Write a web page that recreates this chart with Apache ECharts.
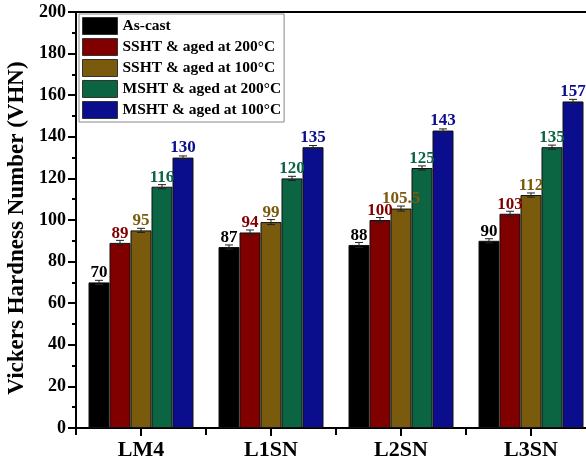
<!DOCTYPE html>
<html>
<head>
<meta charset="utf-8">
<script src="https://cdn.jsdelivr.net/npm/echarts@6/dist/echarts.min.js"></script>
<style>
html,body{margin:0;padding:0;background:#fff;overflow:hidden;}
#main{width:586px;height:463px;}
</style>
</head>
<body>
<div id="main"></div>
<script>
// 数据
let categories = ['LM4', 'L1SN', 'L2SN', 'L3SN'];
let seriesNames = ['As-cast', 'SSHT & aged at 200°C', 'SSHT & aged at 100°C', 'MSHT & aged at 200°C', 'MSHT & aged at 100°C'];
let asCast = [70, 87, 88, 90];
let ssht200 = [89, 94, 100, 103];
let ssht100 = [95, 99, 105.5, 112];
let msht200 = [116, 120, 125, 135];
let msht100 = [130, 135, 143, 157];
let errAsCast = [1, 1, 1.2, 1];
let errSsht200 = [1.2, 1.2, 1.2, 1.2];
let errSsht100 = [1, 1.2, 1.2, 1];
let errMsht200 = [1, 1, 1, 1];
let errMsht100 = [0.8, 0.8, 0.8, 1];

let colors = ['#000000', '#800000', '#7a5a0c', '#0b6442', '#0a0d8c'];
let allData = [asCast, ssht200, ssht100, msht200, msht100];
let allErr = [errAsCast, errSsht200, errSsht100, errMsht200, errMsht100];

let myChart = echarts.init(document.getElementById('main'));
const FONT = '"Liberation Serif", "Times New Roman", serif';
const BW = 21;

let series = [];
for (let i = 0; i < 5; i++) {
    series.push({
        name: seriesNames[i],
        type: 'bar',
        data: allData[i],
        barWidth: BW,
        barGap: '0%',
        itemStyle: { color: colors[i], borderColor: '#111', borderWidth: 1 },
        label: {
            show: true,
            position: 'top',
            distance: 1,
            color: colors[i],
            fontFamily: FONT,
            fontWeight: 'bold',
            fontSize: 17
        },
        z: 2
    });
}
// 误差线
for (let i = 0; i < 5; i++) {
    series.push({
        type: 'custom',
        name: 'err' + i,
        silent: true,
        z: 3,
        data: allData[i].map(function (v, k) { return [k, v, allErr[i][k]]; }),
        renderItem: function (params, api) {
            let k = api.value(0), v = api.value(1), e = api.value(2);
            let off = (i - 2) * BW;
            let hi = api.coord([k, v + e]);
            let lo = api.coord([k, v - e]);
            let x = hi[0] + off;
            let st = { stroke: '#222', lineWidth: 1 };
            return {
                type: 'group',
                children: [
                    { type: 'line', shape: { x1: x, y1: hi[1], x2: x, y2: lo[1] }, style: st },
                    { type: 'line', shape: { x1: x - 4, y1: hi[1], x2: x + 4, y2: hi[1] }, style: st },
                    { type: 'line', shape: { x1: x - 4, y1: lo[1], x2: x + 4, y2: lo[1] }, style: st }
                ]
            };
        }
    });
}

let option = {
    animation: false,
    color: colors,
    legend: {
        data: seriesNames,
        icon: 'rect',
        orient: 'vertical',
        left: 79,
        top: 14,
        itemWidth: 35,
        itemHeight: 17,
        itemGap: 3,
        itemTextGap: 4,
        padding: [3, 3, 3, 3],
        borderColor: '#888',
        borderWidth: 1,
        backgroundColor: '#fff',
        itemStyle: { borderColor: '#333', borderWidth: 1 },
        textStyle: { fontFamily: FONT, fontWeight: 'bold', fontSize: 15.5, lineHeight: 17, color: '#000' }
    },
    grid: {
        left: 76,
        top: 12,
        width: 520,
        bottom: 35,
        outerBoundsMode: 'none'
    },
    xAxis: [{
        type: 'category',
        data: categories,
        axisLine: { lineStyle: { color: '#000', width: 2 } },
        axisTick: { show: true, alignWithLabel: false, length: 7, lineStyle: { color: '#000', width: 2 } },
        axisLabel: { fontFamily: FONT, fontWeight: 'bold', fontSize: 22, color: '#000', margin: 11 },
        splitLine: { show: false }
    }, {
        // 类别中心刻度
        type: 'category',
        data: categories,
        position: 'bottom',
        axisLine: { show: false },
        axisTick: { show: true, alignWithLabel: true, length: 8, lineStyle: { color: '#000', width: 2 } },
        axisLabel: { show: false },
        splitLine: { show: false }
    }],
    yAxis: {
        type: 'value',
        min: 0,
        max: 200,
        interval: 20,
        name: 'Vickers Hardness Number (VHN)',
        nameLocation: 'middle',
        nameGap: 37,
        nameTextStyle: { fontFamily: FONT, fontWeight: 'bold', fontSize: 23, color: '#000', padding: [0, 16, 0, 0] },
        axisLine: { show: true, lineStyle: { color: '#000', width: 2 } },
        axisTick: { show: true, length: 8, lineStyle: { color: '#000', width: 2 } },
        minorTick: { show: true, splitNumber: 2, length: 4, lineStyle: { color: '#000', width: 2 } },
        axisLabel: { fontFamily: FONT, fontWeight: 'bold', fontSize: 18, color: '#000', margin: 10 },
        splitLine: { show: false }
    },
    graphic: [{
        type: 'line',
        shape: { x1: 76, y1: 12, x2: 586, y2: 12 },
        style: { stroke: '#000', lineWidth: 2 }
    }],
    series: series
};

myChart.setOption(option);
</script>
</body>
</html>
